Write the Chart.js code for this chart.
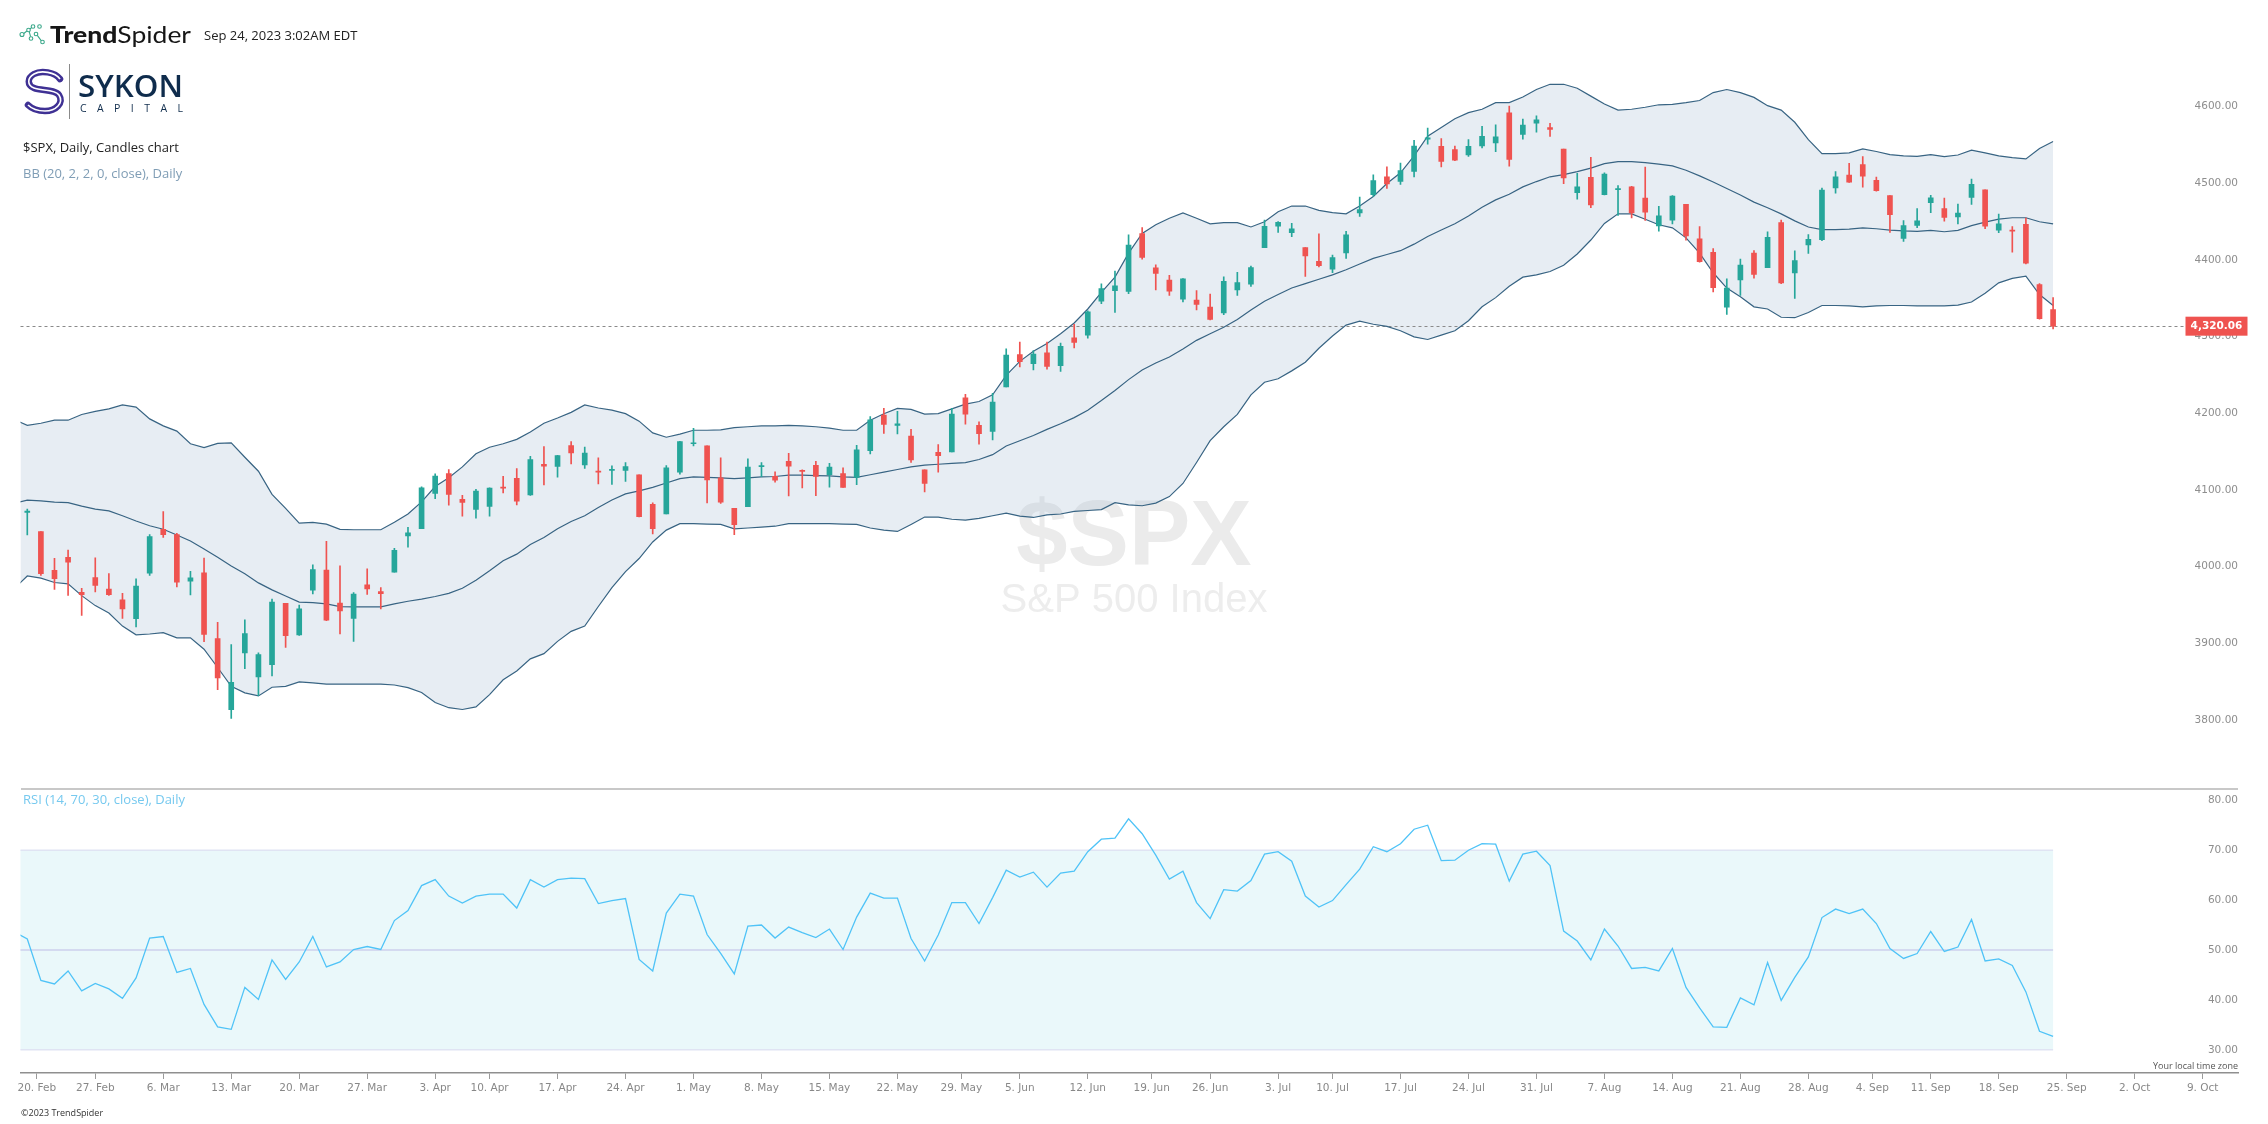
<!DOCTYPE html>
<html>
<head>
<meta charset="utf-8">
<script src="https://cdn.jsdelivr.net/npm/chart.js@4.4.0/dist/chart.umd.min.js"></script>
<style>
  html, body { margin: 0; padding: 0; background: #fff; }
  #page { position: relative; width: 2268px; height: 1124px; overflow: hidden; font-family: 'Open Sans', 'DejaVu Sans', sans-serif; }
  .txt { position: absolute; white-space: nowrap; z-index: 2; }
  canvas { position: absolute; left: 0; }
</style>
</head>
<body>
<div id="page">
  <svg style="position:absolute;left:0;top:0;z-index:2" width="240" height="130">
    <g fill="none" stroke="#3aa88a" stroke-width="1.1">
      <circle cx="22" cy="34.5" r="2"/>
      <circle cx="28.5" cy="30" r="1.8"/>
      <circle cx="33" cy="26.5" r="1.8"/>
      <circle cx="39.5" cy="26.5" r="1.8"/>
      <circle cx="36" cy="34" r="1.8"/>
      <circle cx="31" cy="38.5" r="1.8"/>
      <circle cx="42.5" cy="42" r="1.8"/>
      <path d="M23.8 33.5 L26.9 31 M30 29 L31.5 27.7 M37.3 35.4 L41.2 40.6 M29.2 31.7 L30.6 36.7"/>
    </g>
    <text x="50" y="42.7" font-family="Lato" font-size="23" fill="#161616" textLength="141" lengthAdjust="spacingAndGlyphs"><tspan font-weight="900">Trend</tspan><tspan font-weight="400">Spider</tspan></text>
    <path d="M60 79 C55 72,41 70,34 74 C27 78,27 85,34 88 C41 91,55 89,59 95 C64 103,56 111,45 111 C37 111,31 108,28 105" fill="none" stroke="#3f3194" stroke-width="6.5" stroke-linecap="round"/>
    <path d="M60 79 C55 72,41 70,34 74 C27 78,27 85,34 88 C41 91,55 89,59 95 C64 103,56 111,45 111 C37 111,31 108,28 105" fill="none" stroke="#fff" stroke-width="1.6"/>
    <line x1="69.5" y1="64" x2="69.5" y2="119" stroke="#8a8a8a" stroke-width="1"/>
    <text x="78" y="97" font-family="Open Sans" font-size="30" font-weight="600" fill="#0f2c4c" textLength="105" lengthAdjust="spacingAndGlyphs">SYKON</text>
    <text x="80" y="112" font-family="Open Sans" font-size="10.5" fill="#0f2c4c" textLength="103" lengthAdjust="spacing">CAPITAL</text>
  </svg>
  <div class="txt" style="left:204px;top:27px;font-size:13px;line-height:17px;color:#222">Sep 24, 2023 3:02AM EDT</div>
  <div class="txt" style="left:23px;top:139px;font-size:13px;line-height:17px;color:#222">$SPX, Daily, Candles chart</div>
  <div class="txt" style="left:23px;top:165px;font-size:13px;line-height:17px;color:#7f9db5">BB (20, 2, 2, 0, close), Daily</div>

  <canvas id="price" width="2268" height="787" style="top:0"></canvas>
  <div style="position:absolute;left:21px;top:788px;width:2217px;height:2px;background:#c8c8c8"></div>
  <canvas id="rsi" width="2268" height="334" style="top:790px"></canvas>

  <div class="txt" style="left:23px;top:791px;font-size:13px;line-height:17px;color:#76c9ef">RSI (14, 70, 30, close), Daily</div>
  <div class="txt" style="right:30px;top:1060px;font-size:9px;line-height:12px;color:#555">Your local time zone</div>
  <div class="txt" style="left:21px;top:1107px;font-size:9px;line-height:12px;color:#333">©2023 TrendSpider</div>
</div>

<script>
// trading sessions 2023 (first one sits left of the visible area)
const dates = [
  '02-16','02-17','02-21','02-22','02-23','02-24','02-27','02-28',
  '03-01','03-02','03-03','03-06','03-07','03-08','03-09','03-10','03-13','03-14','03-15','03-16','03-17',
  '03-20','03-21','03-22','03-23','03-24','03-27','03-28','03-29','03-30','03-31',
  '04-03','04-04','04-05','04-06','04-10','04-11','04-12','04-13','04-14','04-17','04-18','04-19','04-20','04-21',
  '04-24','04-25','04-26','04-27','04-28',
  '05-01','05-02','05-03','05-04','05-05','05-08','05-09','05-10','05-11','05-12','05-15','05-16','05-17','05-18','05-19',
  '05-22','05-23','05-24','05-25','05-26','05-30','05-31',
  '06-01','06-02','06-05','06-06','06-07','06-08','06-09','06-12','06-13','06-14','06-15','06-16',
  '06-20','06-21','06-22','06-23','06-26','06-27','06-28','06-29','06-30',
  '07-03','07-05','07-06','07-07','07-10','07-11','07-12','07-13','07-14','07-17','07-18','07-19','07-20','07-21',
  '07-24','07-25','07-26','07-27','07-28','07-31',
  '08-01','08-02','08-03','08-04','08-07','08-08','08-09','08-10','08-11','08-14','08-15','08-16','08-17','08-18',
  '08-21','08-22','08-23','08-24','08-25','08-28','08-29','08-30','08-31',
  '09-01','09-05','09-06','09-07','09-08','09-11','09-12','09-13','09-14','09-15','09-18','09-19','09-20','09-21','09-22'
];

const opens = [
  4114.75, 4077.39, 4052.35, 4001.83, 4018.60, 3973.24, 3992.36, 3977.19, 3963.34, 3938.68, 3998.02,
  4055.15, 4048.26, 3987.55, 3998.66, 3912.77, 3820.00, 3894.01, 3863.00, 3878.93, 3958.69,
  3917.47, 3975.89, 4002.04, 3959.21, 3939.21, 3982.93, 3974.13, 3999.53, 4046.74, 4056.18,
  4102.20, 4128.03, 4094.50, 4081.15, 4085.20, 4110.29, 4121.72, 4100.04, 4140.11, 4137.17,
  4164.26, 4139.33, 4130.48, 4132.14, 4132.07, 4126.43, 4087.78, 4075.29, 4129.63, 4166.79,
  4164.10, 4122.25, 4082.61, 4084.73, 4136.98, 4124.25, 4143.74, 4132.24, 4138.54, 4126.65,
  4127.95, 4122.85, 4157.68, 4204.15, 4190.78, 4176.80, 4132.96, 4155.71, 4156.16, 4226.71,
  4190.74, 4183.03, 4241.01, 4282.99, 4271.34, 4285.47, 4268.69, 4304.88, 4308.32, 4352.61,
  4366.29, 4365.33, 4440.95, 4396.11, 4380.01, 4355.40, 4354.17, 4344.84, 4337.36, 4367.48,
  4374.94, 4422.44, 4450.48, 4442.04, 4422.62, 4404.54, 4394.23, 4415.55, 4467.69, 4491.50,
  4514.61, 4508.86, 4521.78, 4563.87, 4554.38, 4550.16, 4543.39, 4555.19, 4558.96, 4598.26,
  4570.00, 4584.82, 4578.83, 4550.93, 4494.27, 4513.96, 4491.58, 4498.03, 4501.57, 4487.16,
  4450.69, 4458.13, 4478.87, 4433.79, 4416.32, 4344.88, 4380.28, 4415.33, 4396.44, 4455.16,
  4389.38, 4426.03, 4432.75, 4500.34, 4517.01, 4530.60, 4510.06, 4490.35, 4434.55, 4451.30,
  4480.98, 4473.27, 4462.65, 4487.78, 4497.98, 4445.13, 4445.41, 4452.81, 4374.36, 4341.74
];
const highs = [
  4136.54, 4081.51, 4052.35, 4017.37, 4028.30, 3978.25, 4018.05, 3997.50, 3971.73, 3990.84, 4048.29,
  4078.49, 4050.00, 4000.41, 4017.81, 3934.05, 3905.05, 3937.29, 3894.26, 3964.46, 3958.91,
  3956.62, 4009.08, 4039.49, 4007.66, 3972.74, 4003.83, 3979.20, 4030.59, 4057.85, 4110.75,
  4127.66, 4133.13, 4099.69, 4107.32, 4109.50, 4124.26, 4134.37, 4150.26, 4163.19, 4151.72,
  4169.48, 4162.57, 4148.57, 4138.02, 4142.41, 4126.43, 4089.67, 4138.24, 4170.06, 4186.92,
  4164.10, 4148.30, 4082.61, 4147.02, 4142.30, 4130.35, 4154.28, 4132.80, 4143.74, 4141.25,
  4135.54, 4164.67, 4202.20, 4212.91, 4209.22, 4185.68, 4132.96, 4165.74, 4212.87, 4231.10,
  4195.44, 4232.43, 4290.67, 4299.28, 4288.33, 4299.19, 4298.01, 4322.62, 4340.13, 4375.37,
  4391.82, 4439.20, 4448.47, 4400.15, 4386.22, 4382.25, 4366.55, 4362.06, 4384.42, 4390.35,
  4398.39, 4458.48, 4456.46, 4454.06, 4422.62, 4440.39, 4412.60, 4443.64, 4488.34, 4517.38,
  4527.76, 4532.85, 4562.30, 4578.43, 4564.74, 4555.00, 4563.41, 4580.62, 4582.47, 4607.07,
  4590.16, 4594.22, 4584.62, 4550.93, 4519.49, 4540.34, 4519.84, 4503.31, 4502.44, 4527.37,
  4476.23, 4490.33, 4478.87, 4449.95, 4421.17, 4381.82, 4407.55, 4418.59, 4443.18, 4458.30,
  4418.46, 4439.56, 4500.14, 4521.65, 4532.26, 4541.25, 4514.29, 4490.35, 4457.81, 4473.53,
  4490.77, 4487.11, 4479.39, 4511.99, 4497.98, 4466.36, 4449.85, 4461.03, 4375.70, 4357.40
];
const lows = [
  4089.49, 4047.95, 3995.19, 3976.90, 3969.19, 3943.08, 3973.55, 3968.98, 3939.05, 3928.16, 3995.17,
  4044.61, 3980.31, 3969.76, 3908.70, 3846.32, 3808.86, 3873.63, 3838.24, 3864.11, 3901.27,
  3916.89, 3971.19, 3936.17, 3919.05, 3909.16, 3970.47, 3951.53, 3999.53, 4032.10, 4056.18,
  4095.14, 4086.87, 4072.55, 4069.84, 4072.55, 4102.61, 4086.94, 4099.40, 4113.20, 4123.18,
  4140.36, 4134.49, 4114.57, 4113.86, 4117.77, 4071.38, 4049.35, 4075.29, 4127.18, 4164.12,
  4089.72, 4088.86, 4048.28, 4084.73, 4123.81, 4116.65, 4098.92, 4109.29, 4099.12, 4110.27,
  4109.86, 4113.62, 4153.50, 4180.20, 4179.68, 4142.54, 4103.98, 4129.73, 4156.16, 4192.18,
  4166.15, 4171.64, 4241.01, 4266.82, 4263.09, 4263.96, 4261.07, 4291.70, 4304.37, 4349.31,
  4337.85, 4362.60, 4407.44, 4367.19, 4360.14, 4351.82, 4341.34, 4328.08, 4335.00, 4360.22,
  4371.97, 4422.44, 4442.29, 4436.61, 4385.05, 4397.40, 4389.92, 4408.46, 4463.23, 4489.36,
  4499.56, 4504.90, 4514.59, 4557.48, 4527.56, 4535.79, 4541.29, 4552.42, 4547.58, 4528.56,
  4564.01, 4573.14, 4567.53, 4505.75, 4485.54, 4474.55, 4491.15, 4464.39, 4461.33, 4457.92,
  4443.98, 4453.44, 4432.19, 4403.55, 4364.83, 4335.31, 4360.30, 4382.77, 4396.44, 4375.55,
  4356.29, 4414.98, 4431.68, 4493.59, 4507.39, 4501.35, 4496.01, 4442.38, 4430.46, 4448.38,
  4467.89, 4456.83, 4453.52, 4478.69, 4447.21, 4442.11, 4416.61, 4401.38, 4329.17, 4316.49
];
const closes = [
  4090.41, 4079.09, 3997.34, 3991.05, 4012.32, 3970.04, 3982.24, 3970.15, 3951.39, 3981.35, 4045.64,
  4048.42, 3986.37, 3992.01, 3918.32, 3861.59, 3855.76, 3919.29, 3891.93, 3960.28, 3916.64,
  3951.57, 4002.87, 3936.97, 3948.72, 3970.99, 3977.53, 3971.27, 4027.81, 4050.83, 4109.31,
  4124.51, 4100.60, 4090.38, 4105.02, 4109.11, 4108.94, 4091.95, 4146.22, 4137.64, 4151.32,
  4154.87, 4154.52, 4129.79, 4133.52, 4137.04, 4071.63, 4055.99, 4135.35, 4169.48, 4167.87,
  4119.58, 4090.75, 4061.22, 4136.25, 4138.12, 4119.17, 4137.64, 4130.62, 4124.08, 4136.28,
  4109.90, 4158.77, 4198.05, 4191.98, 4192.63, 4145.58, 4115.24, 4151.28, 4205.45, 4205.52,
  4179.83, 4221.02, 4282.37, 4273.79, 4283.85, 4267.52, 4293.93, 4298.86, 4338.93, 4369.01,
  4372.59, 4425.84, 4409.59, 4388.71, 4365.69, 4381.89, 4348.33, 4328.82, 4378.41, 4376.86,
  4396.44, 4450.38, 4455.59, 4446.82, 4411.59, 4398.95, 4409.53, 4439.26, 4472.16, 4510.04,
  4505.42, 4522.79, 4554.98, 4565.72, 4534.87, 4536.34, 4554.64, 4567.46, 4566.75, 4537.41,
  4582.23, 4588.96, 4576.73, 4513.39, 4501.89, 4478.03, 4518.44, 4499.38, 4467.71, 4468.83,
  4464.05, 4489.72, 4437.86, 4404.33, 4370.36, 4369.71, 4399.77, 4387.55, 4436.01, 4376.31,
  4405.71, 4433.31, 4497.63, 4514.87, 4507.66, 4515.77, 4496.83, 4465.48, 4451.14, 4457.49,
  4487.46, 4461.90, 4467.44, 4505.10, 4450.32, 4453.53, 4443.95, 4402.20, 4330.00, 4320.06
];

// Bollinger bands (20, 2)
const bbUpper = [
  4198.6, 4190.7, 4193.5, 4197.5, 4197.5, 4204.9, 4208.9, 4212.3, 4217.4, 4214.5, 4199.2,
  4190.1, 4183.3, 4166.8, 4161.7, 4167.3, 4167.9, 4149.2, 4131.0, 4100.8, 4082.6,
  4063.3, 4064.4, 4062.1, 4055.3, 4054.7, 4054.7, 4054.7, 4064.4, 4075.2, 4091.1,
  4111.0, 4122.4, 4136.6, 4153.7, 4162.2, 4166.8, 4172.5, 4182.1, 4193.5, 4200.3,
  4207.7, 4217.4, 4213.4, 4210.6, 4206.0, 4196.3, 4181.0, 4175.3, 4179.3, 4184.4,
  4184.4, 4185.0, 4187.8, 4189.0, 4190.1, 4190.1, 4190.7, 4190.1, 4189.0, 4187.2,
  4184.4, 4184.4, 4197.5, 4206.0, 4212.8, 4211.7, 4205.4, 4206.0, 4212.3, 4218.5,
  4221.9, 4230.5, 4256.0, 4274.2, 4287.3, 4297.6, 4310.1, 4324.3, 4342.5, 4364.1,
  4384.0, 4415.3, 4440.9, 4452.2, 4460.8, 4467.6, 4460.8, 4453.4, 4455.1, 4455.1,
  4449.4, 4456.2, 4469.3, 4476.7, 4476.7, 4471.0, 4468.2, 4466.5, 4476.7, 4489.2,
  4506.0, 4520.0, 4542.0, 4567.7, 4579.1, 4590.4, 4598.4, 4602.9, 4611.5, 4611.5,
  4618.9, 4628.6, 4635.4, 4635.4, 4630.3, 4620.0, 4609.8, 4601.8, 4602.9, 4605.5,
  4608.7, 4609.2, 4611.5, 4614.3, 4624.6, 4628.6, 4624.6, 4618.3, 4607.5, 4601.8,
  4585.9, 4563.2, 4544.9, 4544.9, 4546.1, 4551.2, 4547.8, 4543.8, 4542.1, 4541.5,
  4543.8, 4541.0, 4543.2, 4549.5, 4546.1, 4542.1, 4539.8, 4538.1, 4551.8, 4560.9
];
const bbMiddle = [
  4088.9, 4093.4, 4092.3, 4090.6, 4090.0, 4085.5, 4081.5, 4079.2, 4072.9, 4066.1, 4059.9,
  4055.3, 4047.9, 4040.0, 4029.7, 4018.9, 4007.5, 3997.3, 3985.4, 3976.3, 3968.3,
  3960.4, 3959.8, 3958.1, 3954.6, 3954.1, 3954.1, 3954.1, 3958.1, 3961.5, 3964.3,
  3967.7, 3971.7, 3978.5, 3988.8, 4001.3, 4014.4, 4022.9, 4035.4, 4044.5, 4055.9,
  4065.5, 4072.9, 4083.7, 4093.4, 4101.4, 4105.4, 4109.9, 4115.6, 4121.3, 4123.6,
  4123.0, 4122.4, 4121.3, 4122.4, 4123.6, 4124.1, 4125.8, 4125.8, 4125.3, 4124.9,
  4123.6, 4123.0, 4126.4, 4129.8, 4133.2, 4136.6, 4138.9, 4140.1, 4141.2, 4142.3,
  4146.3, 4152.6, 4163.9, 4170.8, 4177.6, 4185.5, 4192.9, 4200.9, 4210.6, 4223.1,
  4236.2, 4250.4, 4262.9, 4272.0, 4279.9, 4290.2, 4301.6, 4310.1, 4318.6, 4328.9,
  4341.3, 4352.7, 4361.3, 4369.8, 4375.5, 4381.2, 4386.9, 4393.7, 4401.1, 4408.5,
  4413.5, 4418.5, 4427.0, 4437.0, 4445.5, 4453.5, 4463.6, 4475.0, 4484.7, 4492.1,
  4501.7, 4508.6, 4514.8, 4517.6, 4521.6, 4526.2, 4531.9, 4534.7, 4534.7, 4533.3,
  4531.3, 4529.0, 4523.4, 4516.0, 4508.0, 4499.5, 4491.0, 4481.8, 4474.4, 4466.5,
  4457.4, 4449.4, 4446.0, 4446.0, 4446.6, 4448.3, 4447.1, 4445.4, 4444.3, 4443.7,
  4444.9, 4443.2, 4444.9, 4451.1, 4455.7, 4459.6, 4461.4, 4461.4, 4456.2, 4453.4
];
const bbLower = [
  3977.4, 3994.4, 3991.6, 3985.9, 3984.2, 3968.8, 3955.8, 3946.1, 3929.1, 3917.7, 3918.8,
  3920.5, 3913.7, 3913.7, 3898.9, 3875.1, 3850.6, 3842.1, 3838.1, 3849.4, 3850.6,
  3856.3, 3855.2, 3853.4, 3853.4, 3853.4, 3853.4, 3853.4, 3852.3, 3848.9, 3842.5,
  3829.5, 3822.7, 3820.4, 3823.8, 3839.8, 3859.1, 3870.5, 3886.4, 3893.2, 3909.2,
  3922.2, 3929.1, 3954.6, 3979.1, 4000.1, 4017.2, 4038.8, 4054.2, 4062.7, 4062.7,
  4062.1, 4061.6, 4055.9, 4057.0, 4058.2, 4059.3, 4062.7, 4062.7, 4062.7, 4062.7,
  4062.1, 4061.6, 4057.0, 4054.2, 4052.5, 4061.6, 4071.2, 4071.2, 4068.4, 4067.2,
  4069.5, 4072.9, 4076.3, 4072.4, 4070.7, 4074.1, 4075.2, 4078.6, 4079.8, 4080.9,
  4090.0, 4087.1, 4086.0, 4089.4, 4097.9, 4115.0, 4142.3, 4170.8, 4189.0, 4205.0,
  4230.5, 4247.0, 4251.5, 4261.8, 4273.1, 4291.3, 4307.2, 4321.5, 4326.6, 4322.6,
  4319.8, 4314.1, 4306.1, 4302.7, 4308.4, 4314.1, 4327.2, 4345.3, 4357.3, 4372.1,
  4384.0, 4386.9, 4391.4, 4399.4, 4414.2, 4432.4, 4454.0, 4466.5, 4466.5, 4459.4,
  4452.3, 4448.3, 4435.2, 4415.3, 4389.7, 4369.8, 4358.4, 4345.3, 4342.5, 4331.7,
  4331.1, 4337.9, 4347.0, 4347.0, 4346.5, 4345.3, 4346.5, 4347.0, 4347.0, 4346.5,
  4346.5, 4346.5, 4347.6, 4351.6, 4363.0, 4376.6, 4382.3, 4385.2, 4361.3, 4347.0
];

// RSI (14)
const rsiValues = [
  53.7, 52.2, 43.9, 43.2, 45.8, 41.8, 43.3, 42.2, 40.3, 44.4, 52.4,
  52.7, 45.5, 46.3, 39.1, 34.6, 34.1, 42.5, 40.1, 48.0, 44.1,
  47.6, 52.7, 46.6, 47.6, 50.1, 50.7, 50.1, 55.9, 57.9, 62.9,
  64.1, 60.8, 59.4, 60.8, 61.2, 61.2, 58.4, 64.1, 62.6, 64.1,
  64.4, 64.3, 59.3, 59.9, 60.3, 48.1, 45.8, 57.4, 61.2, 60.8,
  53.1, 49.3, 45.2, 54.8, 55.0, 52.4, 54.6, 53.5, 52.5, 54.2,
  50.1, 56.6, 61.4, 60.4, 60.4, 52.3, 47.8, 53.0, 59.5, 59.5,
  55.3, 60.5, 66.0, 64.6, 65.6, 62.6, 65.4, 65.8, 69.7, 72.2,
  72.4, 76.3, 73.3, 69.0, 64.2, 65.8, 59.5, 56.3, 62.1, 61.8,
  63.9, 69.2, 69.7, 67.8, 60.8, 58.6, 59.9, 63.1, 66.2, 70.7,
  69.7, 71.3, 74.2, 75.0, 67.9, 68.0, 70.0, 71.3, 71.2, 63.8,
  69.2, 69.8, 66.9, 53.8, 51.8, 48.0, 54.2, 50.8, 46.3, 46.5,
  45.8, 50.3, 42.5, 38.4, 34.6, 34.5, 40.4, 39.0, 47.5, 39.9,
  44.5, 48.6, 56.5, 58.2, 57.3, 58.2, 55.3, 50.3, 48.3, 49.3,
  53.7, 49.7, 50.6, 56.1, 47.8, 48.2, 46.9, 41.6, 33.7, 32.7
];

const weekStarts = [
  '02-20','02-27','03-06','03-13','03-20','03-27','04-03','04-10','04-17','04-24',
  '05-01','05-08','05-15','05-22','05-29','06-05','06-12','06-19','06-26','07-03',
  '07-10','07-17','07-24','07-31','08-07','08-14','08-21','08-28','09-04','09-11',
  '09-18','09-25','10-02','10-09'
];
const priceTicks = [3800, 3900, 4000, 4100, 4200, 4300, 4400, 4500, 4600];
const rsiTicks = [30, 40, 50, 60, 70, 80];
const rsiLevels = { upper: 70, mid: 50, lower: 30 };

const GREEN = '#26a69a';
const RED = '#ef5350';
const MONTHS = ['Jan','Feb','Mar','Apr','May','Jun','Jul','Aug','Sep','Oct','Nov','Dec'];
const X_MIN = -0.5, X_MAX = 162.6;
const AXIS_FONT = { family: 'DejaVu Sans', size: 10.5 };

Chart.defaults.animation = false;
Chart.defaults.font.family = 'DejaVu Sans';

// x position of session k (dates[0] lies just left of the plot)
const xOf = k => k - 1;
const last = dates.length - 1;

// weekly tick: first session of that week, nudged back when the Monday was a holiday
function weekTickX(md) {
  const k = dates.findIndex(d => d >= md);
  if (k >= 0) return dates[k] === md ? xOf(k) : xOf(k) - 0.3;
  const d = new Date('2023-' + dates[last] + 'T00:00:00');
  const end = new Date('2023-' + md + 'T00:00:00');
  let n = 0;
  while (d < end) {
    d.setDate(d.getDate() + 1);
    const w = d.getDay();
    if (w !== 0 && w !== 6) n++;
  }
  return xOf(last) + n;
}
const tickXs = weekStarts.map(weekTickX);
const tickLabels = weekStarts.map(md => {
  const [m, d] = md.split('-').map(Number);
  return d + '. ' + MONTHS[m - 1];
});

const points = arr => arr.map((v, k) => ({ x: xOf(k), y: v }));
const candleColors = closes.map((c, k) => (c >= opens[k] ? GREEN : RED));

//水印
const watermark = {
  id: 'watermark',
  beforeDraw(chart) {
    const { ctx } = chart;
    ctx.save();
    ctx.textAlign = 'center';
    ctx.textBaseline = 'alphabetic';
    ctx.fillStyle = '#ebebeb';
    ctx.font = 'bold 92px "Liberation Sans", Arial, sans-serif';
    ctx.fillText('$SPX', 1134, 565);
    ctx.fillStyle = '#ededed';
    ctx.font = '40px "Liberation Sans", Arial, sans-serif';
    ctx.fillText('S&P 500 Index', 1134, 612);
    ctx.restore();
  }
};

//最新价
const lastPrice = {
  id: 'lastPrice',
  beforeDatasetsDraw(chart) {
    const { ctx, chartArea } = chart;
    const y = Math.round(chart.scales.y.getPixelForValue(closes[last])) + 0.5;
    ctx.save();
    ctx.strokeStyle = '#8a8a8a';
    ctx.lineWidth = 1;
    ctx.setLineDash([3, 3]);
    ctx.beginPath();
    ctx.moveTo(chartArea.left, y);
    ctx.lineTo(2185, y);
    ctx.stroke();
    ctx.restore();
  },
  afterDraw(chart) {
    const { ctx } = chart;
    const y = chart.scales.y.getPixelForValue(closes[last]);
    ctx.save();
    ctx.fillStyle = RED;
    ctx.fillRect(2185.5, y - 9.5, 62, 19);
    ctx.fillStyle = '#fff';
    ctx.font = 'bold 10.5px "DejaVu Sans"';
    ctx.textAlign = 'center';
    ctx.textBaseline = 'middle';
    ctx.fillText(closes[last].toLocaleString('en-US', { minimumFractionDigits: 2 }), 2216.5, y + 0.5);
    ctx.restore();
  }
};

//RSI 区间
const rsiBands = {
  id: 'rsiBands',
  beforeDatasetsDraw(chart) {
    const { ctx, chartArea, scales: { x, y } } = chart;
    const x0 = chartArea.left;
    const x1 = x.getPixelForValue(xOf(last));
    const yHi = y.getPixelForValue(rsiLevels.upper);
    const yMid = y.getPixelForValue(rsiLevels.mid);
    const yLo = y.getPixelForValue(rsiLevels.lower);
    ctx.save();
    ctx.fillStyle = '#eaf8fa';
    ctx.fillRect(x0, yHi, x1 - x0, yLo - yHi);
    ctx.lineWidth = 1.5;
    ctx.strokeStyle = '#e0e4f3';
    [yHi, yLo].forEach(yy => {
      ctx.beginPath(); ctx.moveTo(x0, yy); ctx.lineTo(x1, yy); ctx.stroke();
    });
    ctx.strokeStyle = '#cdd0ec';
    ctx.beginPath(); ctx.moveTo(x0, yMid); ctx.lineTo(x1, yMid); ctx.stroke();
    ctx.restore();
  }
};

const bbLine = {
  type: 'line',
  borderColor: '#386483',
  borderWidth: 1.2,
  pointRadius: 0,
  tension: 0,
  order: 2
};

new Chart(document.getElementById('price'), {
  type: 'line',
  data: {
    datasets: [
      {
        type: 'bar',
        data: dates.map((d, k) => ({ x: xOf(k), y: [lows[k], highs[k]] })),
        backgroundColor: candleColors,
        barThickness: 1,
        grouped: false,
        order: 1
      },
      {
        type: 'bar',
        data: dates.map((d, k) => ({ x: xOf(k), y: [opens[k], closes[k]] })),
        backgroundColor: candleColors,
        barThickness: 5,
        minBarLength: 1,
        grouped: false,
        order: 0
      },
      { ...bbLine, data: points(bbUpper), fill: '+2', backgroundColor: 'rgba(176,196,214,0.3)' },
      { ...bbLine, data: points(bbMiddle), fill: false },
      { ...bbLine, data: points(bbLower), fill: false }
    ]
  },
  options: {
    responsive: false,
    devicePixelRatio: 1,
    layout: { padding: { left: 20.5, right: 30, top: 60, bottom: 0 } },
    plugins: {
      legend: { display: false },
      tooltip: { enabled: false },
      filler: { drawTime: 'beforeDatasetsDraw' }
    },
    scales: {
      x: { type: 'linear', display: false, min: X_MIN, max: X_MAX, offset: false, grid: { offset: false } },
      y: {
        type: 'linear',
        position: 'right',
        min: 3727.55,
        max: 4667.07,
        grid: { display: false },
        border: { display: false },
        afterBuildTicks: s => { s.ticks = priceTicks.map(v => ({ value: v })); },
        afterFit: s => { s.width = 0; },
        ticks: {
          mirror: true,
          padding: 0,
          labelOffset: -5,
          color: '#8e8e8e',
          font: AXIS_FONT,
          callback: v => Number(v).toFixed(2)
        }
      }
    }
  },
  plugins: [watermark, lastPrice]
});

new Chart(document.getElementById('rsi'), {
  type: 'line',
  data: {
    datasets: [{
      data: points(rsiValues),
      borderColor: '#4fc3f7',
      borderWidth: 1.3,
      pointRadius: 0,
      tension: 0,
      fill: false
    }]
  },
  options: {
    responsive: false,
    devicePixelRatio: 1,
    layout: { padding: { left: 20.5, right: 30, top: 0, bottom: 0 } },
    plugins: { legend: { display: false }, tooltip: { enabled: false } },
    scales: {
      x: {
        type: 'linear',
        min: X_MIN,
        max: X_MAX,
        offset: false,
        afterBuildTicks: s => { s.ticks = tickXs.map(v => ({ value: v })); },
        afterFit: s => { s.height = 51; },
        grid: { offset: false, drawOnChartArea: false, drawTicks: true, tickLength: 6, color: '#9a9a9a', lineWidth: 1 },
        border: { display: true, color: '#8f8f8f', width: 1.5 },
        ticks: {
          autoSkip: false,
          maxRotation: 0,
          padding: 3,
          color: '#888',
          font: AXIS_FONT,
          callback: (v, i) => tickLabels[i]
        }
      },
      y: {
        type: 'linear',
        position: 'right',
        min: 25.35,
        max: 80.8,
        grid: { display: false },
        border: { display: false },
        afterBuildTicks: s => { s.ticks = rsiTicks.map(v => ({ value: v })); },
        afterFit: s => { s.width = 0; },
        ticks: {
          mirror: true,
          padding: 0,
          color: '#8e8e8e',
          font: AXIS_FONT,
          callback: v => Number(v).toFixed(2)
        }
      }
    }
  },
  plugins: [rsiBands]
});
</script>
</body>
</html>
